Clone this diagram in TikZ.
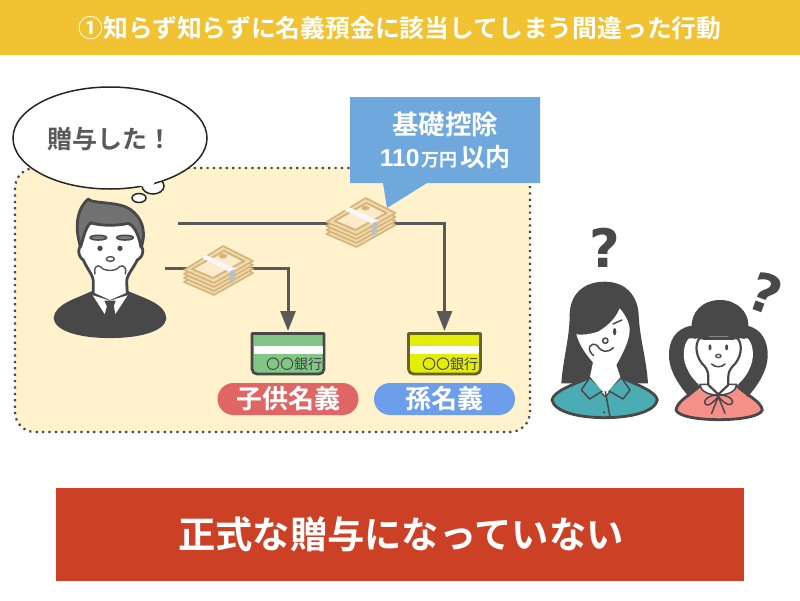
\documentclass[tikz,border=0pt]{standalone}
\usepackage{fontspec}
\setmainfont{Noto Sans CJK JP}[BoldFont={Noto Sans CJK JP Bold}]
\newfontfamily\latinb{Liberation Sans}[BoldFont={Liberation Sans Bold}]
\newfontfamily\qfont{DejaVu Sans}[BoldFont={DejaVu Sans Bold}]
\usetikzlibrary{arrows.meta}
\definecolor{barY}{HTML}{F1C232}
\definecolor{panelY}{HTML}{FFF2CC}
\definecolor{ink}{HTML}{595959}
\definecolor{dk}{HTML}{484848}
\definecolor{calloutB}{HTML}{6FA8DC}
\definecolor{pillR}{HTML}{E06666}
\definecolor{pillB}{HTML}{6D9EEB}
\definecolor{barR}{HTML}{CC4125}
\definecolor{teal}{HTML}{4BACB4}
\definecolor{pinkb}{HTML}{F58F88}
\definecolor{tanA}{HTML}{D4B47A}
\definecolor{tanB}{HTML}{F0D9A8}
\definecolor{tanC}{HTML}{FBEBCB}
\definecolor{greenC}{HTML}{82C785}
\definecolor{yelC}{HTML}{E4EC0A}
\tikzset{
  wtext/.style={text=white,font=\bfseries\fontsize{#1}{#1}\selectfont,inner sep=0pt},
  conn/.style={draw=ink,line width=3pt},
  arr/.style={conn,-{Triangle[length=20pt,width=15pt]}},
  pill/.style={rounded corners=16pt,inner sep=0pt,minimum width=141pt,minimum height=32pt,text=white,font=\bfseries\fontsize{26}{26}\selectfont},
  cardbox/.style={line width=2.8pt,line join=round},
  outl/.style={draw=dk,line width=2.8pt,line join=round,line cap=round},
  thin/.style={draw=dk,line width=1.5pt,line cap=round,line join=round},
  bubble/.style={fill=white,draw=black!85,line width=1.5pt},
  pics/money/.style={code={
    \foreach \d in {12,8,4,0}{
      \draw[fill=tanB,draw=tanA,line width=1.6pt,line join=round,yshift=-\d pt]
        (7,-25)--(37,-10)--(-2,12)--(-32,-1)--cycle;}
    \draw[fill=tanC,draw=tanA,line width=1.8pt,line join=round] (8,-20)--(28,-10)--(-3,7)--(-24,-2)--cycle;
    \fill[tanA] (7,-15) ellipse (4pt and 2.5pt);
    \fill[white!94!gray] (-14,-13)--(-10,-16)--(21,-2)--(19,0)--(14,1)--cycle;
    \fill[lightgray] (14,0)--(20,-2)--(18,11)--(13,13)--cycle;
  }}
}
\begin{document}
\begin{tikzpicture}[x=1pt,y=-1pt]
\useasboundingbox (0,0) rectangle (800,600);
\fill[white] (0,0) rectangle (800,600);
% title
\fill[barY] (0,0) rectangle (800,55);
\node[wtext=24.8] (title) at (400,28) {①知らず知らずに名義預金に該当してしまう間違った行動};
% panel
\draw[fill=panelY,draw=dk,line width=2.2pt,dash pattern=on 2.2pt off 4.2pt,rounded corners=20pt] (15,168) rectangle (530,432);
% connectors
\coordinate (s1) at (178,223.5);
\coordinate (k1) at (444.5,223.5);
\coordinate (t1) at (444.5,331);
\coordinate (s2) at (165,268);
\coordinate (k2) at (288,268);
\coordinate (t2) at (288,331);
\draw[arr] (s1)--(k1)--(t1);
\draw[arr] (s2)--(k2)--(t2);
% money
\path (216,271) pic {money};
\path (358.5,223) pic {money};
% callout
\fill[calloutB] (350,97)--(540,97)--(540,183)--(427,183)--(387,208)--(383,183)--(350,183)--cycle;
\node[wtext=26.5] (kiso) at (445,124) {基礎控除};
\node[inner sep=0pt,text=white] (limit) at (445,157) {\bfseries{\latinb\fontsize{24.6}{24}\selectfont 110}\,\fontsize{18}{18}\selectfont 万円\,\fontsize{25}{25}\selectfont 以内};
% thought bubble
\draw[bubble] (153,186) ellipse (11 and 8);
\draw[bubble] (110,138) ellipse (97 and 51);
\fill[white] (146,181) ellipse (9 and 6);
\draw[bubble] (139,198) ellipse (7 and 4.5);
\node[inner sep=0pt,text=ink,font=\bfseries\fontsize{25}{25}\selectfont] (said) at (110,139) {贈与した！};
% man
\begin{scope}[shift={(50,190)},scale=1/3]
\draw[outl,fill=dk] (15,385) .. controls (18,345) and (80,330) .. (125,308) -- (235,308) .. controls (285,330) and (342,345) .. (345,385) .. controls (340,420) and (270,440) .. (180,440) .. controls (90,440) and (20,420) .. (15,385) -- cycle;
\draw[outl,fill=white] (90,170) .. controls (80,190) and (92,205) .. (100,210) .. controls (110,235) and (130,255) .. (130,275) -- (130,312) -- (180,335) -- (232,312) -- (230,275) .. controls (230,255) and (250,235) .. (262,210) .. controls (272,205) and (285,190) .. (275,170) -- (275,100) -- (90,100) -- cycle;
\fill[white] (125,315)--(165,378)--(180,335)--(195,378)--(236,315)--(180,332)--cycle;
\draw[thin,line width=1.2pt] (125,315)--(165,378)--(172,350) (236,315)--(195,378)--(190,350);
\fill[dk] (163,332)--(197,332)--(190,352)--(193,372)--(180,392)--(168,372)--(172,352)--cycle;
\draw[outl,fill=ink!85!white] (92,170) .. controls (76,125) and (75,60) .. (115,27) .. controls (122,40) and (185,35) .. (225,50) .. controls (265,65) and (295,115) .. (273,172) .. controls (268,145) and (258,110) .. (235,100) .. controls (200,108) and (150,108) .. (122,98) .. controls (105,115) and (100,145) .. (92,170) -- cycle;
\draw[outl,line width=1.6pt,fill=gray] (145,143) ellipse (25 and 7);
\draw[outl,line width=1.6pt,fill=gray] (225,143) ellipse (25 and 7);
\fill[dk] (150,175) circle (8) (210,175) circle (8);
\draw[thin,draw=ink,fill=white] (181,207) ellipse (12 and 7);
\draw[thin,draw=ink] (135,252) .. controls (130,235) and (140,222) .. (152,230) .. controls (160,245) and (200,245) .. (208,230) .. controls (220,222) and (232,235) .. (226,252);
\end{scope}
% cards
\draw[cardbox,draw=dk,fill=greenC] (252,333.5) -- (324,333.5) -- (324,369) arc[start angle=0,end angle=90,radius=5] -- (257,374) arc[start angle=90,end angle=180,radius=5] -- cycle;
\fill[white] (253.5,346) rectangle (322.5,354);
\node[inner sep=0pt,text=dk!90!black,font=\fontsize{14}{14}\selectfont] (bank1) at (294,364) {〇〇銀行};
\draw[cardbox,draw=dk!50!olive,fill=yelC] (408.5,333.5) -- (480.5,333.5) -- (480.5,369) arc[start angle=0,end angle=90,radius=5] -- (413.5,374) arc[start angle=90,end angle=180,radius=5] -- cycle;
\fill[white] (410,346) rectangle (479,354);
\node[inner sep=0pt,text=dk!90!black,font=\fontsize{14}{14}\selectfont] (bank2) at (450,364) {〇〇銀行};
\node[pill,fill=pillR] (child) at (288,399) {子供名義};
\node[pill,fill=pillB] (grand) at (444.5,399) {孫名義};
% question marks
\node[inner sep=0pt,text=dk,font=\qfont\bfseries\fontsize{53}{53}\selectfont] (q1) at (605,248) {?};
\node[inner sep=0pt,text=dk,rotate=-20,font=\qfont\bfseries\fontsize{53}{53}\selectfont] (q2) at (766,293) {?};
% woman
\begin{scope}[shift={(548,275)},scale=1/3]
\fill[dk] (170,20) .. controls (100,20) and (65,65) .. (65,120) .. controls (65,190) and (45,250) .. (40,325) -- (300,325) .. controls (295,250) and (275,190) .. (272,120) .. controls (270,65) and (235,20) .. (170,20) -- cycle;
\draw[outl,fill=teal] (12,375) .. controls (16,350) and (70,330) .. (125,308) -- (172,362) -- (220,308) .. controls (270,330) and (324,350) .. (328,375) .. controls (321,410) and (250,428) .. (170,428) .. controls (90,428) and (19,410) .. (12,375) -- cycle;
\fill[white] (85,178) .. controls (110,180) and (125,178) .. (150,170) .. controls (185,150) and (205,125) .. (215,100) .. controls (228,115) and (245,140) .. (245,165) .. controls (245,195) and (225,235) .. (205,270) -- (218,310) -- (172,362) -- (125,310) -- (135,262) .. controls (120,245) and (95,215) .. (85,178) -- cycle;
\draw[thin,fill=teal] (125,308)--(100,345)--(125,372)--(168,345)--cycle;
\draw[thin,fill=teal] (220,308)--(246,345)--(225,372)--(178,345)--cycle;
\fill[white] (130,310) -- (172,358) -- (214,310) -- cycle;
\draw[thin] (172,350)--(186,425);
\fill[dk] (168,412) circle (3.5);
\fill[dk] (200,170) ellipse (5 and 11);
\draw[thin] (195,147)--(222,135);
\draw[thin,fill=white] (172,197) circle (8);
\draw[thin] (148,212) .. controls (160,232) and (178,235) .. (196,218);
\draw[thin] (148,212) .. controls (138,205) and (128,207) .. (125,215) .. controls (122,225) and (128,235) .. (137,242);
\end{scope}
% girl
\begin{scope}[shift={(665,295)},scale=1/3]
\draw[outl,fill=pinkb] (33,345) .. controls (35,320) and (75,300) .. (105,272) -- (215,272) .. controls (245,300) and (289,320) .. (292,345) .. controls (287,363) and (230,374) .. (162,374) .. controls (95,374) and (38,363) .. (33,345) -- cycle;
\fill[dk] (80,92) .. controls (30,100) and (10,140) .. (12,185) .. controls (14,235) and (50,280) .. (72,306) -- (115,250) -- (100,120) -- cycle;
\fill[dk] (245,92) .. controls (290,100) and (310,140) .. (308,185) .. controls (306,235) and (270,280) .. (248,306) -- (205,250) -- (220,120) -- cycle;
\fill[white] (72,130) .. controls (52,150) and (52,195) .. (67,222) .. controls (77,245) and (90,258) .. (105,272) -- (130,240) -- (110,130) -- cycle;
\fill[white] (248,130) .. controls (268,150) and (268,195) .. (253,222) .. controls (243,245) and (230,258) .. (215,272) -- (190,240) -- (210,130) -- cycle;
\draw[thin,fill=white] (105,268) .. controls (105,285) and (125,300) .. (160,300) .. controls (195,300) and (215,285) .. (215,268) -- cycle;
\draw[outl,line width=2.2pt,fill=white] (103,130) .. controls (88,150) and (92,190) .. (120,215) .. controls (125,222) and (130,232) .. (130,245) -- (130,270) -- (160,298) -- (190,270) -- (190,245) .. controls (190,232) and (196,222) .. (202,215) .. controls (230,190) and (234,150) .. (218,130) -- cycle;
\fill[dk] (165,15) .. controls (110,15) and (76,55) .. (80,100) .. controls (82,115) and (84,122) .. (88,132) .. controls (105,122) and (215,122) .. (238,132) .. controls (245,115) and (250,105) .. (250,90) .. controls (250,50) and (215,15) .. (165,15) -- cycle;
\draw[thin] (115,132)--(205,132);
\fill[dk] (135,157) ellipse (4.5 and 9) (185,157) ellipse (4.5 and 9);
\draw[thin,draw=ink,fill=white] (160,183) ellipse (8 and 5);
\draw[thin] (140,207) .. controls (150,218) and (170,218) .. (180,207);
\draw[thin] (160,302) .. controls (140,295) and (105,318) .. (125,330) .. controls (135,333) and (150,315) .. (160,305) .. controls (170,315) and (185,333) .. (198,328) .. controls (215,315) and (180,295) .. (160,302) (160,305)--(140,355) (160,305)--(180,355);
\end{scope}
% bottom
\fill[barR] (56,488) rectangle (744,581);
\node[wtext=37.3] (verdict) at (401,534) {正式な贈与になっていない};
\end{tikzpicture}
\end{document}
